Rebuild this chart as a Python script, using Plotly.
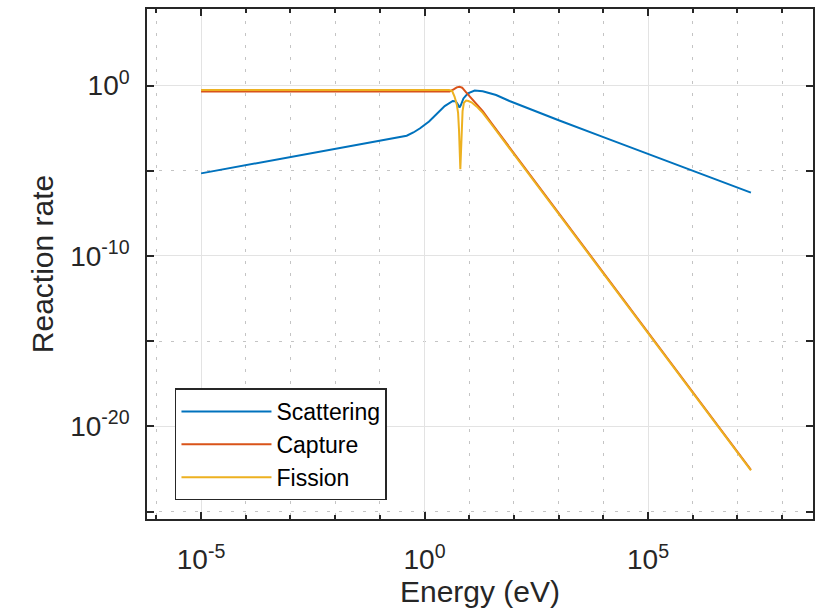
import plotly.graph_objects as go

# ---- data (energy in eV, reaction rate) ----
scatter_energy = [1e-5, 1e-4, 1e-3, 1e-2, 0.1, 0.251, 0.398, 0.562, 0.794, 1.26,
                  2.0, 2.82, 4.27, 5.01, 5.62, 6.03, 6.46, 7.41, 9.33, 13.2,
                  20.0, 39.8, 79.4, 316, 1e3, 1e4, 1e5, 1e6, 1e7, 2e7]
scatter_rate = [7.08e-6, 2.14e-5, 6.61e-5, 2.00e-4, 5.89e-4, 8.91e-4, 1.15e-3, 1.78e-3, 3.16e-3, 7.94e-3,
                2.51e-2, 6.31e-2, 0.126, 0.120, 0.0759, 0.0513, 0.0708, 0.178, 0.355, 0.513,
                0.468, 0.282, 0.126, 0.0302, 9.33e-3, 9.55e-4, 9.77e-5, 1.0e-5, 1.02e-6, 5.25e-7]

capture_energy = [1e-5, 1e-4, 1e-3, 1e-2, 0.1, 1.0, 3.16, 3.63, 4.47, 5.25, 6.03, 6.92,
                  8.51, 11.2, 14.5, 20.0, 31.6, 100, 1e3, 1e4, 1e5, 1e6, 1e7, 2e7]
capture_rate = [0.447, 0.447, 0.447, 0.447, 0.447, 0.447, 0.447, 0.457, 0.603, 0.794, 0.871, 0.759,
                0.407, 0.178, 0.0891, 0.0316, 6.03e-3, 1.05e-4, 3.16e-8, 1e-11, 3.16e-15, 1e-18, 3.16e-22, 2.82e-23]

fission_energy = [1e-5, 1e-4, 1e-3, 1e-2, 0.1, 1.0, 3.55, 4.17, 4.68, 5.25, 5.62, 5.89,
                  6.17, 6.31, 6.46, 6.76, 7.08, 7.59, 8.51, 9.55, 11.2, 14.5, 20.0, 31.6,
                  100, 1e3, 1e4, 1e5, 1e6, 1e7, 2e7]
fission_rate = [0.562, 0.562, 0.562, 0.562, 0.562, 0.562, 0.562, 0.468, 0.229, 0.0794, 0.0251, 2.51e-3,
                6.31e-5, 1.26e-5, 6.31e-5, 2.51e-3, 0.0316, 0.1, 0.132, 0.126, 0.105, 0.0603, 0.0251, 5.25e-3,
                9.33e-5, 2.95e-8, 9.33e-12, 2.95e-15, 9.33e-19, 2.95e-22, 2.63e-23]

series_names = ["Scattering", "Capture", "Fission"]
series_colors = ["#0072BD", "#D95319", "#EDB120"]

x_tick_vals = [1e-5, 1e0, 1e5]
x_tick_text = ["10<sup>-5</sup>", "10<sup>0</sup>", "10<sup>5</sup>"]
x_minor_vals = [1e-6, 1e-5, 1e-4, 1e-3, 1e-2, 1e-1, 1e0, 1e1, 1e2, 1e3, 1e4, 1e5, 1e6, 1e7, 1e8]
y_tick_vals = [1e0, 1e-10, 1e-20]
y_tick_text = ["10<sup>0</sup>", "10<sup>-10</sup>", "10<sup>-20</sup>"]
y_minor_vals = [1e-5, 1e-15, 1e-25]

fig = go.Figure()
for name, xs, ys, col in zip(series_names,
                             [scatter_energy, capture_energy, fission_energy],
                             [scatter_rate, capture_rate, fission_rate],
                             series_colors):
    fig.add_trace(go.Scatter(x=xs, y=ys, mode="lines", name=name,
                             line=dict(color=col, width=2)))

axis_col = "#262626"
common = dict(
    showline=True, linecolor=axis_col, linewidth=1.5, mirror="allticks",
    ticks="inside", ticklen=7, tickwidth=1.5, tickcolor=axis_col,
    showgrid=True, gridcolor="#e3e3e3", gridwidth=1, zeroline=False,
    tickfont=dict(size=28, color=axis_col),
)

fig.update_xaxes(type="log", range=[-6.21, 8.69], tickmode="array",
                 tickvals=x_tick_vals, ticktext=x_tick_text,
                 minor=dict(tickmode="array", tickvals=x_minor_vals, ticks="inside", ticklen=4,
                            tickcolor=axis_col, showgrid=True, griddash="3px,9px",
                            gridcolor="#c4c4c4", gridwidth=1),
                 ticklabelstandoff=15,
                 title=dict(text="Energy (eV)", font=dict(size=30, color=axis_col), standoff=5),
                 **common)
fig.update_yaxes(type="log", range=[-25.44, 4.5], tickmode="array",
                 tickvals=y_tick_vals, ticktext=y_tick_text,
                 minor=dict(tickmode="array", tickvals=y_minor_vals, ticks="inside", ticklen=7,
                            tickcolor=axis_col, showgrid=True, griddash="3px,9px",
                            gridcolor="#c4c4c4", gridwidth=1),
                 ticklabelstandoff=10,
                 title=dict(text="Reaction rate", font=dict(size=30, color=axis_col), standoff=8),
                 **common)

fig.update_layout(
    width=823, height=616,
    margin=dict(l=147, r=10, t=7, b=97),
    paper_bgcolor="white", plot_bgcolor="white",
    font=dict(family="Liberation Sans, Arial, sans-serif", color=axis_col),
    legend=dict(x=0.042, y=0.256, xanchor="left", yanchor="top",
                bgcolor="white", bordercolor=axis_col, borderwidth=1.5,
                font=dict(size=23, color="black"), itemwidth=90, tracegroupgap=0),
    showlegend=True,
)

fig.write_html("out.html")
